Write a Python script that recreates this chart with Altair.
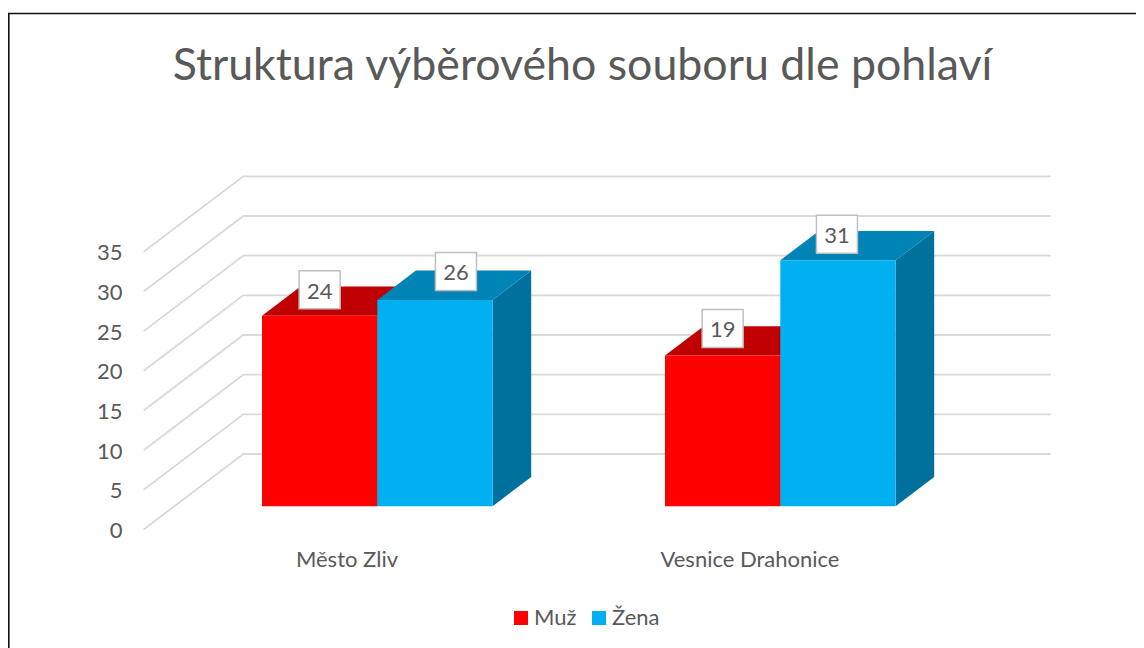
import altair as alt
import pandas as pd

categories = ["Město Zliv", "Vesnice Drahonice"]
series = ["Muž", "Žena"]
muz = [24, 19]
zena = [26, 31]
ticks = [0, 5, 10, 15, 20, 25, 30, 35]
chart_title = "Struktura výběrového souboru dle pohlaví"

FONT = "Lato"
TEXT = "#595959"
FS = 22
COL_FRONT = {"Muž": "#FF0000", "Žena": "#00B0F0"}
COL_TOP = {"Muž": "#C00000", "Žena": "#0083B5"}
COL_SIDE = {"Muž": "#A00000", "Žena": "#00709C"}

W, H = 1128, 640
UNIT = 7.934                # pixels per value unit
FRONT_ZERO = 529            # page y of value 0 on the front plane
def up(px):
    return px / UNIT
def page_y(py):
    return (FRONT_ZERO - py) / UNIT

X_SCALE = alt.Scale(domain=[8, 8 + W], nice=False, zero=False)
Y_SCALE = alt.Scale(domain=[page_y(8 + H), page_y(8)], nice=False, zero=False)
Y_AXIS = alt.Axis(values=ticks, title=None, domain=False, ticks=False, grid=False,
                  offset=-114, labelPadding=0, labelFont=FONT, labelFontSize=FS,
                  labelColor=TEXT, format="d", labelBaseline="middle", labelOffset=1.5)
X = lambda f: alt.X(f, type="quantitative", scale=X_SCALE, axis=None)
Y = lambda f: alt.Y(f, type="quantitative", scale=Y_SCALE, axis=Y_AXIS, title=None)

# floor / wall grid
WALL = up(75)
rows = []
for t in ticks:
    rows += [dict(t=t, i=0, x=144.3, y=t),
             dict(t=t, i=1, x=243.3, y=t + WALL),
             dict(t=t, i=2, x=1050, y=t + WALL)]
grid = alt.Chart(pd.DataFrame(rows)).mark_line(color="#D9D9D9", strokeWidth=1.8, strokeCap="round").encode(
    x=X("x"), y=Y("y"), detail="t:N", order="i:Q")

# bars
GROUP_LEFT = [262, 665]
BAR_W = 115.3
DX, DY = 38.6, up(29.3)
BASE = up(22.8)
bars = []
for g, cat in enumerate(categories):
    for s, (name, vals) in enumerate(zip(series, [muz, zena])):
        left = GROUP_LEFT[g] + s * BAR_W
        bars.append(dict(group=cat, series=name, value=vals[g], x0=left, x1=left + BAR_W,
                         y0=BASE, y1=BASE + vals[g]))
bars = pd.DataFrame(bars)

layers = [grid]
for name in series:
    b = bars[bars.series == name]
    top, side = [], []
    for _, r in b.iterrows():
        top += [dict(k=r["group"], y=r.y1, xa=r.x0, xb=r.x1),
                dict(k=r["group"], y=r.y1 + DY, xa=r.x0 + DX, xb=r.x1 + DX)]
        side += [dict(k=r["group"], x=r.x1, ya=r.y0, yb=r.y1),
                 dict(k=r["group"], x=r.x1 + DX, ya=r.y0 + DY, yb=r.y1 + DY)]
    layers.append(alt.Chart(pd.DataFrame(side)).mark_area(color=COL_SIDE[name]).encode(
        x=X("x"), y=Y("ya"), y2="yb:Q", detail="k:N"))
    layers.append(alt.Chart(pd.DataFrame(top)).mark_area(color=COL_TOP[name], orient="horizontal").encode(
        y=Y("y"), x=X("xa"), x2="xb:Q", detail="k:N"))
    layers.append(alt.Chart(b).mark_rect().encode(
        x=X("x0"), x2="x1:Q", y=Y("y0"), y2="y1:Q",
        color=alt.Color("series:N",
                        scale=alt.Scale(domain=series, range=[COL_FRONT[n] for n in series]),
                        legend=alt.Legend(orient="none", legendX=502, legendY=599, direction="horizontal",
                                          title=None, symbolType="square", symbolSize=196,
                                          symbolStrokeWidth=0, labelFont=FONT, labelFontSize=FS,
                                          labelColor=TEXT, columnPadding=11, labelOffset=2))))

# data labels
LABEL_SHIFT_X = [0, 21, 0, -1]
LABEL_UP = [26, 28.5, 27, 26]
lab = bars.copy()
lab["lx"] = (lab.x0 + lab.x1) / 2 + LABEL_SHIFT_X
lab["ly"] = lab.y1 + [up(p) for p in LABEL_UP]
lab["xa"], lab["xb"] = lab.lx - 20.5, lab.lx + 20.5
lab["ya"], lab["yb"] = lab.ly - up(19), lab.ly + up(19)
boxes = alt.Chart(lab).mark_rect(fill="white", stroke="#BFBFBF", strokeWidth=1.5).encode(
    x=X("xa"), x2="xb:Q", y=Y("ya"), y2="yb:Q")
texts = alt.Chart(lab).mark_text(font=FONT, fontSize=FS, color=TEXT, baseline="middle", dy=2).encode(
    x=X("lx"), y=Y("ly"), text="value:Q")
layers += [boxes, texts]

# category labels
cat_df = pd.DataFrame(dict(name=categories, x=[347, 750], y=[page_y(560)] * 2))
layers.append(alt.Chart(cat_df).mark_text(font=FONT, fontSize=FS, color=TEXT, baseline="middle").encode(
    x=X("x"), y=Y("y"), text="name:N"))

# outer frame (left and top only are inside the picture)
frame_df = pd.DataFrame(dict(a=[0]))
layers.append(alt.Chart(frame_df).mark_rule(color="#111111", strokeWidth=1.6).encode(
    x=alt.value(0.8), y=alt.value(5.5), y2=alt.value(H)))
layers.append(alt.Chart(frame_df).mark_rule(color="#111111", strokeWidth=1.6).encode(
    x=alt.value(0), x2=alt.value(W), y=alt.value(5.5)))

chart = alt.layer(*layers).properties(
    width=W, height=H,
    padding=0,
    autosize=alt.AutoSizeParams(type="none"),
    title=alt.TitleParams(chart_title, font=FONT, fontSize=44.7, fontWeight=400, color=TEXT,
                          anchor="middle", frame="group", baseline="alphabetic", offset=0, dx=10.5, dy=117),
).configure_view(stroke=None).resolve_scale(color="shared")

chart.save("out.html", embed_options={"renderer": "svg", "actions": False})
